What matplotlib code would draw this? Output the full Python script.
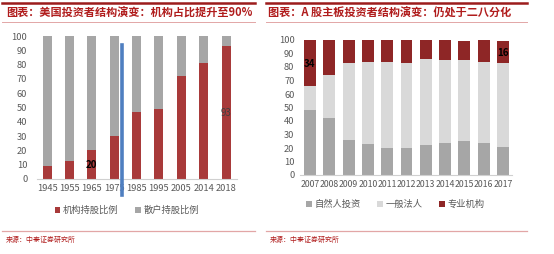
import matplotlib
matplotlib.use("Agg")
import matplotlib.pyplot as plt
from matplotlib.lines import Line2D
import numpy as np

plt.rcParams["font.family"] = ["Noto Sans CJK SC", "DejaVu Sans"]

# left panel: US investor structure
us_years = ["1945", "1955", "1965", "1975", "1985", "1995", "2005", "2014", "2018"]
us_inst = [9, 12.5, 20, 30, 47, 49, 72, 81, 93]
us_retail = [100 - v for v in us_inst]

# right panel: A-share main board structure
cn_years = [str(y) for y in range(2007, 2018)]
cn_natural = [48, 42, 26, 23, 20, 20, 22, 24, 25, 24, 21]
cn_general = [18, 32, 57, 61, 64, 63, 64, 61, 60, 60, 62]
cn_prof = [34, 26, 17, 16, 16, 17, 14, 15, 14, 16, 16]

RED = "#a83a3a"
DARKRED = "#8e2626"
GRAY = "#a6a6a6"
LIGHT = "#d9d9d9"
TXT = "#595959"
TITLE = "#b01c1c"
PINK = "#e2a6a6"

W, H = 554, 254
fig = plt.figure(figsize=(W / 100, H / 100), dpi=100)


def rect(x0, x1, ytop, ybot):
    return [x0 / W, 1 - ybot / H, (x1 - x0) / W, (ybot - ytop) / H]


def style(ax, pad_y):
    for s in ("left", "right", "top"):
        ax.spines[s].set_visible(False)
    ax.spines["bottom"].set_color("#d0d0d0")
    ax.spines["bottom"].set_linewidth(0.8)
    ax.tick_params(length=0, colors=TXT, labelsize=6.7)
    ax.tick_params(axis="y", pad=pad_y)
    ax.tick_params(axis="x", pad=3.5)
    ax.set_ylim(0, 100)
    ax.set_yticks(range(0, 101, 10))


# ---- left chart
ax1 = fig.add_axes(rect(37, 237, 36, 179))
x1 = np.arange(len(us_years))
ax1.bar(x1, us_inst, width=0.4, color=RED, label="机构持股比例")
ax1.bar(x1, us_retail, width=0.4, bottom=us_inst, color=GRAY, label="散户持股比例")
ax1.set_xlim(-0.45, 8.49)
ax1.set_xticks(x1, us_years)
style(ax1, 7)
ax1.text(2, 10, "20", ha="center", va="center", fontsize=7, fontweight="bold", color="black")
ax1.text(8, 46, "93", ha="center", va="center", fontsize=7, color="#404040")
ax1.plot([3.34, 3.34], [94, -11], color="#4f7fc0", lw=2.6, clip_on=False, zorder=5)
ax1.legend(loc="upper center", bbox_to_anchor=(0.45, -0.13), ncol=2, frameon=False,
           fontsize=6.7, handlelength=0.6, handleheight=0.6, columnspacing=1.8,
           handletextpad=0.3, labelcolor=TXT)

# ---- right chart
ax2 = fig.add_axes(rect(300, 512, 40, 175))
x2 = np.arange(len(cn_years))
b1 = np.array(cn_natural)
b2 = b1 + np.array(cn_general)
ax2.bar(x2, cn_natural, width=0.62, color=GRAY, label="自然人投资")
ax2.bar(x2, cn_general, width=0.62, bottom=b1, color=LIGHT, label="一般法人")
ax2.bar(x2, cn_prof, width=0.62, bottom=b2, color=DARKRED, label="专业机构")
ax2.set_xlim(-0.52, 10.47)
ax2.set_xticks(x2, cn_years)
style(ax2, 4)
ax2.tick_params(axis="x", labelsize=6.3)
ax2.text(0, 82.5, "34", ha="center", va="center", fontsize=7, fontweight="bold", color="black")
ax2.text(10, 90.5, "16", ha="center", va="center", fontsize=7, fontweight="bold", color="black")
ax2.legend(loc="upper center", bbox_to_anchor=(0.45, -0.12), ncol=3, frameon=False,
           fontsize=6.7, handlelength=0.6, handleheight=0.6, columnspacing=1.8,
           handletextpad=0.3, labelcolor=TXT)

# ---- header / footer decorations
def hline(x0, x1, y, color, lw):
    fig.add_artist(Line2D([x0 / W, x1 / W], [1 - y / H, 1 - y / H],
                          transform=fig.transFigure, color=color, lw=lw))

for x0, x1 in ((2, 255), (266, 527)):
    hline(x0, x1, 3, "#9c1c1c", 1.8)
    hline(x0, x1, 22, PINK, 0.7)
    hline(x0, x1, 231, PINK, 0.9)

fig.text(6 / W, 1 - 13 / H, "图表：美国投资者结构演变：机构占比提升至90%",
         fontsize=8, fontweight="bold", color=TITLE, va="center", ha="left")
fig.text(268 / W, 1 - 13 / H, "图表：A 股主板投资者结构演变：仍处于二八分化",
         fontsize=8, fontweight="bold", color=TITLE, va="center", ha="left")
fig.text(6 / W, 1 - 240 / H, "来源：中泰证券研究所", fontsize=5, color=TITLE,
         va="center", ha="left")
fig.text(270 / W, 1 - 240 / H, "来源：中泰证券研究所", fontsize=5, color=TITLE,
         va="center", ha="left")

fig.savefig("out.png", dpi=100)
